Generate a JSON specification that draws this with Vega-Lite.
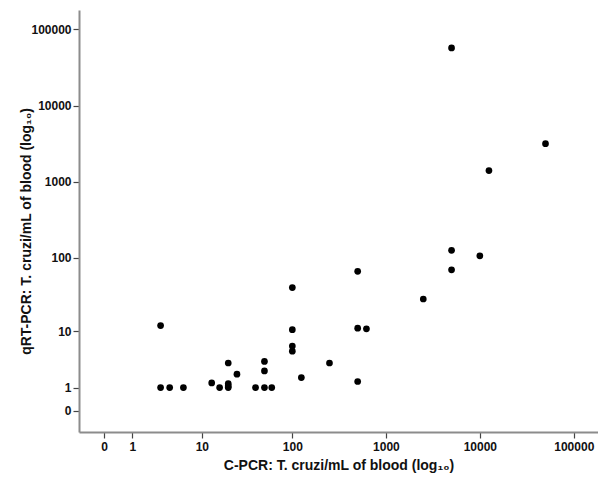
{
  "$schema": "https://vega.github.io/schema/vega-lite/v6.json",
  "width": 519,
  "height": 422,
  "autosize": {"type": "none"},
  "padding": {"left": 79, "top": 10, "right": 0, "bottom": 52},
  "background": "white",
  "config": {"view": {"stroke": null}, "font": "Liberation Sans"},
  "data": {"values": [
    {"cpcr": 3, "qrt": 12},
    {"cpcr": 3, "qrt": 1},
    {"cpcr": 4, "qrt": 1},
    {"cpcr": 6, "qrt": 1},
    {"cpcr": 13, "qrt": 1.3},
    {"cpcr": 16, "qrt": 1},
    {"cpcr": 20, "qrt": 1},
    {"cpcr": 20, "qrt": 1.1},
    {"cpcr": 20, "qrt": 1.25},
    {"cpcr": 20, "qrt": 3.2},
    {"cpcr": 25, "qrt": 2},
    {"cpcr": 40, "qrt": 1},
    {"cpcr": 50, "qrt": 1},
    {"cpcr": 60, "qrt": 1},
    {"cpcr": 50, "qrt": 2.3},
    {"cpcr": 50, "qrt": 3.4},
    {"cpcr": 100, "qrt": 5},
    {"cpcr": 100, "qrt": 6},
    {"cpcr": 100, "qrt": 10.5},
    {"cpcr": 100, "qrt": 40},
    {"cpcr": 125, "qrt": 1.7},
    {"cpcr": 250, "qrt": 3.2},
    {"cpcr": 500, "qrt": 1.4},
    {"cpcr": 500, "qrt": 11},
    {"cpcr": 620, "qrt": 10.8},
    {"cpcr": 500, "qrt": 66},
    {"cpcr": 2500, "qrt": 28},
    {"cpcr": 5000, "qrt": 69},
    {"cpcr": 5000, "qrt": 125},
    {"cpcr": 10000, "qrt": 106},
    {"cpcr": 12500, "qrt": 1400},
    {"cpcr": 50000, "qrt": 3160},
    {"cpcr": 5000, "qrt": 57000}
  ]},
  "mark": {"type": "circle", "size": 45, "color": "black", "opacity": 1},
  "encoding": {
    "x": {
      "field": "cpcr",
      "type": "quantitative",
      "scale": {"type": "symlog", "constant": 1, "domain": [-0.846, 181000], "nice": false, "zero": false},
      "axis": {
        "values": [0, 1, 10, 100, 1000, 10000, 100000],
        "format": "d",
        "grid": false,
        "domainColor": "#8c8c8c",
        "domainWidth": 2,
        "tickColor": "#444444",
        "tickSize": 6,
        "tickWidth": 1.2,
        "labelFont": "Liberation Sans",
        "labelFontWeight": "bold",
        "labelFontSize": 12,
        "labelColor": "#111111",
        "labelPadding": 3,
        "labelFlush": false,
        "labelOverlap": false,
        "title": "C-PCR: T. cruzi/mL of blood (log₁₀)",
        "titleFont": "Liberation Sans",
        "titleFontWeight": "bold",
        "titleFontSize": 14,
        "titleColor": "#111111",
        "titlePadding": 6
      }
    },
    "y": {
      "field": "qrt",
      "type": "quantitative",
      "scale": {"type": "symlog", "constant": 1, "domain": [-0.914, 179000], "nice": false, "zero": false},
      "axis": {
        "values": [0, 1, 10, 100, 1000, 10000, 100000],
        "format": "d",
        "grid": false,
        "domainColor": "#8c8c8c",
        "domainWidth": 2,
        "tickColor": "#444444",
        "tickSize": 6,
        "tickWidth": 1.2,
        "labelFont": "Liberation Sans",
        "labelFontWeight": "bold",
        "labelFontSize": 12,
        "labelColor": "#111111",
        "labelPadding": 2,
        "labelFlush": false,
        "labelOverlap": false,
        "title": "qRT-PCR: T. cruzi/mL of blood (log₁₀)",
        "titleFont": "Liberation Sans",
        "titleFontWeight": "bold",
        "titleFontSize": 14,
        "titleColor": "#111111",
        "titleX": -46,
        "titleY": 221
      }
    }
  }
}
